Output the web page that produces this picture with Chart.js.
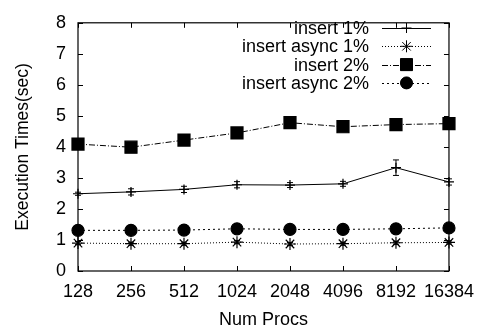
<!DOCTYPE html>
<html>
<head>
<meta charset="utf-8">
<script src="https://cdn.jsdelivr.net/npm/chart.js@4/dist/chart.umd.min.js"></script>
<style>
  html, body { margin: 0; padding: 0; background: #fff; }
  #wrap { width: 484px; height: 331px; }
</style>
</head>
<body>
<div id="wrap"><canvas id="c" width="484" height="331"></canvas></div>
<script>
// Number of processes (x categories)
const procs = ['128', '256', '512', '1024', '2048', '4096', '8192', '16384'];

// Execution times in seconds
const insert1 = [2.49, 2.55, 2.63, 2.78, 2.77, 2.81, 3.33, 2.87];
const insertAsync1 = [0.90, 0.88, 0.88, 0.93, 0.87, 0.88, 0.91, 0.92];
const insert2 = [4.09, 3.99, 4.22, 4.45, 4.78, 4.65, 4.72, 4.75];
const insertAsync2 = [1.31, 1.31, 1.32, 1.36, 1.34, 1.34, 1.36, 1.39];

// Half-widths of the error bars
const insert1Err = [0.05, 0.10, 0.10, 0.10, 0.08, 0.08, 0.25, 0.10];
const insertAsync1Err = [0.05, 0.05, 0.05, 0.05, 0.05, 0.05, 0.05, 0.05];
const insert2Err = [0.03, 0.03, 0.03, 0.03, 0.03, 0.03, 0.03, 0.03];
const insertAsync2Err = [0.08, 0.08, 0.08, 0.08, 0.06, 0.06, 0.06, 0.06];

const yTicks = [0, 1, 2, 3, 4, 5, 6, 7, 8];

const FONT = 'Liberation Sans, Arial, Helvetica, sans-serif';

// Error bars drawn behind the markers
const errorBars = {
  id: 'errorBars',
  beforeDatasetsDraw(chart) {
    const ctx = chart.ctx;
    const y = chart.scales.y;
    ctx.save();
    ctx.strokeStyle = '#000';
    ctx.lineWidth = 1;
    chart.data.datasets.forEach((ds, i) => {
      const meta = chart.getDatasetMeta(i);
      meta.data.forEach((pt, j) => {
        const e = ds.errors[j];
        const top = y.getPixelForValue(ds.data[j] + e);
        const bot = y.getPixelForValue(ds.data[j] - e);
        ctx.beginPath();
        ctx.moveTo(pt.x, top); ctx.lineTo(pt.x, bot);
        ctx.moveTo(pt.x - 3, top); ctx.lineTo(pt.x + 3, top);
        ctx.moveTo(pt.x - 3, bot); ctx.lineTo(pt.x + 3, bot);
        ctx.stroke();
      });
    });
    ctx.restore();
  }
};

// Box around the plot with inward tick marks on all four sides
const frame = {
  id: 'frame',
  afterDraw(chart) {
    const { ctx, chartArea: a, scales } = chart;
    ctx.save();
    ctx.strokeStyle = '#000';
    ctx.lineWidth = 1.2;
    ctx.strokeRect(a.left, a.top, a.right - a.left, a.bottom - a.top);
    ctx.lineWidth = 1;
    ctx.beginPath();
    const tl = 5;
    scales.x.ticks.forEach((t, i) => {
      const px = Math.round(scales.x.getPixelForTick(i)) + 0.5;
      ctx.moveTo(px, a.bottom); ctx.lineTo(px, a.bottom - tl);
      ctx.moveTo(px, a.top); ctx.lineTo(px, a.top + tl);
    });
    scales.y.ticks.forEach((t, i) => {
      const py = Math.round(scales.y.getPixelForTick(i)) + 0.5;
      ctx.moveTo(a.left, py); ctx.lineTo(a.left + tl, py);
      ctx.moveTo(a.right, py); ctx.lineTo(a.right - tl, py);
    });
    ctx.stroke();
    ctx.restore();
  }
};

// Key in the upper right: right-aligned label, then a line sample with its marker
const key = {
  id: 'key',
  afterDraw(chart) {
    const ctx = chart.ctx;
    const textRight = 369, x0 = 382, x1 = 431, top = 28, step = 18.3;
    ctx.save();
    ctx.font = '18px ' + FONT;
    ctx.textAlign = 'right';
    ctx.textBaseline = 'middle';
    chart.data.datasets.forEach((ds, i) => {
      const cy = top + i * step;
      ctx.fillStyle = '#000';
      ctx.fillText(ds.label, textRight, cy + 1);
      ctx.strokeStyle = ds.borderColor;
      ctx.lineWidth = 1;
      ctx.setLineDash(ds.borderDash || []);
      ctx.beginPath();
      ctx.moveTo(x0, Math.round(cy) + 0.5);
      ctx.lineTo(x1, Math.round(cy) + 0.5);
      ctx.stroke();
      ctx.setLineDash([]);
      Chart.helpers.drawPoint(ctx, {
        pointStyle: ds.pointStyle,
        radius: ds.pointRadius,
        borderWidth: ds.pointBorderWidth
      }, (x0 + x1) / 2, cy);
      ctx.fillStyle = '#000';
      ctx.strokeStyle = '#000';
      if (ds.pointStyle === 'rect' || ds.pointStyle === 'circle') ctx.fill();
    });
    ctx.restore();
  }
};

function series(label, data, errors, style, radius, dash) {
  return {
    label, data, errors,
    borderColor: '#000',
    backgroundColor: '#000',
    borderWidth: 1,
    borderDash: dash,
    pointStyle: style,
    pointRadius: radius,
    pointHoverRadius: radius,
    pointBorderWidth: 1.2,
    pointBackgroundColor: '#000',
    pointBorderColor: '#000',
    tension: 0,
    fill: false
  };
}

new Chart(document.getElementById('c'), {
  type: 'line',
  data: {
    labels: procs,
    datasets: [
      series('insert 1%', insert1, insert1Err, 'cross', 5, []),
      series('insert async 1%', insertAsync1, insertAsync1Err, 'star', 6, [1, 2]),
      series('insert 2%', insert2, insert2Err, 'rect', 8.5, [6, 2, 1, 2]),
      series('insert async 2%', insertAsync2, insertAsync2Err, 'circle', 6, [2, 3])
    ]
  },
  options: {
    responsive: false,
    animation: false,
    devicePixelRatio: 1,
    layout: { padding: { top: 14, right: 31, left: 0, bottom: 0 } },
    plugins: { legend: { display: false }, tooltip: { enabled: false } },
    scales: {
      x: {
        type: 'category',
        offset: false,
        grid: { display: true, drawOnChartArea: false, drawTicks: false },
        border: { display: false },
        ticks: { color: '#000', font: { family: FONT, size: 18 }, padding: 10, maxRotation: 0, autoSkip: false },
        title: { display: true, text: 'Num Procs', color: '#000', font: { family: FONT, size: 18 }, padding: { top: 2, bottom: 0 } },
        afterFit(s) { s.height = 60; }
      },
      y: {
        min: 0, max: 8,
        afterBuildTicks(s) { s.ticks = yTicks.map(v => ({ value: v })); },
        grid: { display: true, drawOnChartArea: false, drawTicks: false },
        border: { display: false },
        ticks: { color: '#000', font: { family: FONT, size: 18 }, padding: 12 },
        title: { display: true, text: 'Execution Times(sec)', color: '#000', font: { family: FONT, size: 17.5 }, padding: { top: 13, bottom: 4 } },
        afterFit(s) { s.width = 78; }
      }
    }
  },
  plugins: [errorBars, frame, key]
});
</script>
</body>
</html>
